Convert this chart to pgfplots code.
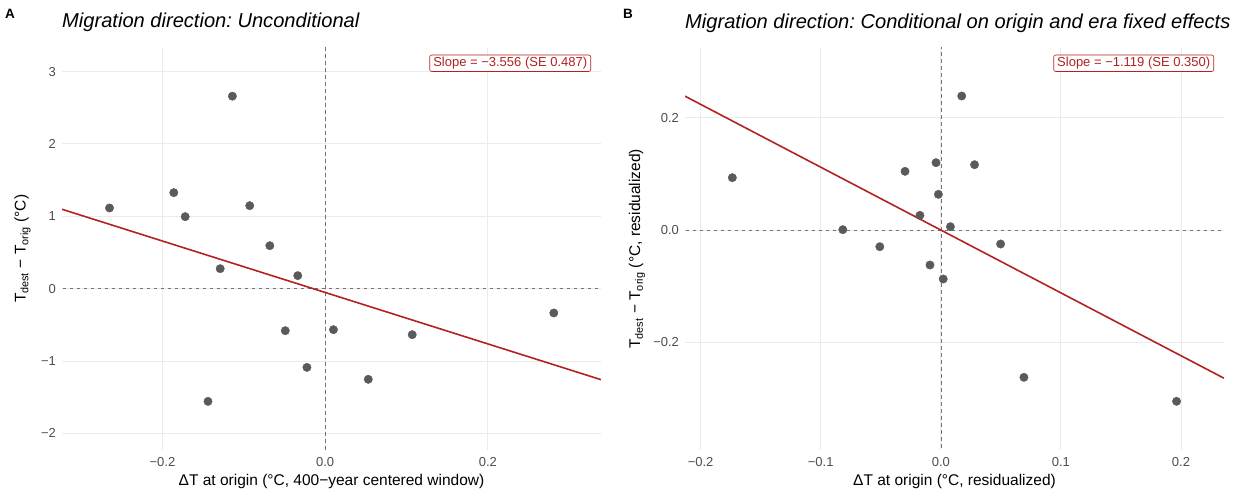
\documentclass[border=0pt]{standalone}
\usepackage{fontspec}
\setmainfont{Liberation Sans}
\usepackage{pgfplots}
\pgfplotsset{compat=1.18}
\frenchspacing
\definecolor{gridc}{HTML}{EBEBEB}
\definecolor{tickc}{HTML}{4D4D4D}
\definecolor{ptc}{HTML}{5A5A5A}
\definecolor{fire}{HTML}{B22222}
\definecolor{dashc}{HTML}{737373}
\pgfplotsset{
  common/.style={
    scale only axis, width=539pt, height=402.3pt, anchor=south west,
    axis line style={draw=none}, tick style={draw=none},
    major tick length=0pt,
    grid=major, major grid style={color=gridc, line width=0.9pt},
    tick label style={font=\fontsize{13}{15}\selectfont, color=tickc},
    xticklabel style={yshift=-4pt},
    yticklabel style={xshift=-2.5pt},
    xlabel style={at={(axis description cs:0.5,0)}, anchor=center, yshift=-31pt, font=\fontsize{15.5}{18}\selectfont},
    ylabel style={anchor=center, font=\fontsize{15.5}{18}\selectfont},
    title style={at={(axis description cs:0,1)}, anchor=base west, inner sep=0pt, yshift=13.7pt, font=\fontsize{20.1}{24}\selectfont\itshape},
    clip=true,
  },
}
\tikzset{
  slopebox/.style={anchor=north east, draw=fire, text=fire, fill=white, rounded corners=2pt, line width=0.6pt, inner xsep=3.5pt, inner ysep=2.2pt, font=\fontsize{13}{15}\selectfont},
}
\begin{document}
\begin{tikzpicture}[x=1pt,y=1pt]
\useasboundingbox (0,0) rectangle (1247,496);
\node[anchor=base west, inner sep=0pt, font=\fontsize{13.5}{14}\selectfont\bfseries] at (5,477.5) {A};
\node[anchor=base west, inner sep=0pt, font=\fontsize{13.5}{14}\selectfont\bfseries] at (623,477.5) {B};
% Panel A
\begin{axis}[common, at={(62pt,46pt)},
  xmin=-0.3234, xmax=0.339, ymin=-2.23, ymax=3.33,
  xtick={-0.2,0,0.2}, xticklabels={−0.2,0.0,0.2},
  ytick={-2,-1,0,1,2,3}, yticklabels={−2,−1,0,1,2,3},
  title={Migration direction: Unconditional},
  xlabel={ΔT at origin (°C, 400−year centered window)},
  ylabel={T\textsubscript{dest} − T\textsubscript{orig} (°C)},
  ylabel style={at={(axis description cs:0,0.5)}, yshift=39.5pt},
]
\addplot[dashc, line width=0.6pt, dash pattern=on 3.5pt off 3.5pt] coordinates {(-0.4,0) (0.4,0)};
\addplot[dashc, line width=0.6pt, dash pattern=on 3.5pt off 3.5pt] coordinates {(0,-3) (0,4)};
\addplot[only marks, mark=*, mark size=4.2pt, ptc, mark options={draw=ptc, fill=ptc}] coordinates {
(-0.265,1.115) (-0.186,1.327) (-0.172,0.995) (-0.114,2.66) (-0.0927,1.147)
(-0.068,0.594) (-0.129,0.276) (-0.0337,0.180) (-0.144,-1.558) (-0.049,-0.581)
(-0.0224,-1.088) (0.0102,-0.567) (0.053,-1.253) (0.107,-0.636) (0.281,-0.336)
};
\addplot[fire, line width=1.6pt] coordinates {(-0.3234,1.097) (0.339,-1.258)};
\node[slopebox] at (rel axis cs:1,1) [xshift=-10pt, yshift=-7pt] {Slope = −3.556 (SE 0.487)};
\end{axis}
% Panel B
\begin{axis}[common, at={(685pt,46pt)},
  xmin=-0.213, xmax=0.2358, ymin=-0.3917, ymax=0.3246,
  xtick={-0.2,-0.1,0,0.1,0.2}, xticklabels={−0.2,−0.1,0.0,0.1,0.2},
  ytick={-0.2,0,0.2}, yticklabels={−0.2,0.0,0.2},
  title={Migration direction: Conditional on origin and era fixed effects},
  xlabel={ΔT at origin (°C, residualized)},
  ylabel={T\textsubscript{dest} − T\textsubscript{orig} (°C, residualized)},
  ylabel style={at={(axis description cs:0,0.5)}, yshift=48pt},
]
\addplot[dashc, line width=0.6pt, dash pattern=on 3.5pt off 3.5pt] coordinates {(-0.3,0) (0.3,0)};
\addplot[dashc, line width=0.6pt, dash pattern=on 3.5pt off 3.5pt] coordinates {(0,-0.5) (0,0.5)};
\addplot[only marks, mark=*, mark size=4.2pt, ptc, mark options={draw=ptc, fill=ptc}] coordinates {
(-0.1736,0.0932) (-0.0816,0.0006) (-0.0508,-0.0297) (-0.0298,0.1045) (-0.0174,0.0261)
(-0.004,0.1199) (-0.002,0.0635) (-0.009,-0.0623) (0.002,-0.0872) (0.008,0.0059)
(0.0174,0.2386) (0.0281,0.1163) (0.0498,-0.0249) (0.0692,-0.2623) (0.1963,-0.305)
};
\addplot[fire, line width=1.6pt] coordinates {(-0.213,0.2383) (0.2358,-0.2639)};
\node[slopebox] at (rel axis cs:1,1) [xshift=-10pt, yshift=-7pt] {Slope = −1.119 (SE 0.350)};
\end{axis}
\end{tikzpicture}
\end{document}
